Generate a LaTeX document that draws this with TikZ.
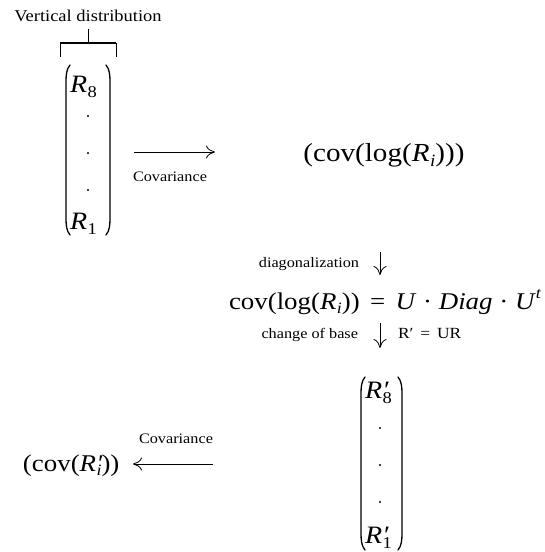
\documentclass[tikz,border=0pt]{standalone}
\usepackage{fontspec}
\setmainfont{Liberation Serif}[FakeStretch=1.12]
\usetikzlibrary{arrows.meta}
\newcommand\fsz[1]{\fontsize{#1}{#1}\selectfont}
\newcommand\lowsub[1]{\raisebox{-0.2em}{\fontsize{0.66em}{0.66em}\selectfont #1}}
\newcommand\Rsub[1]{\textit{R}\kern0.02em\lowsub{#1}}
\newcommand\Rpsub[1]{\textit{R}\rlap{\kern0.08em′}\kern0.02em\lowsub{#1}}
\begin{document}
\begin{tikzpicture}[x=1pt,y=-1pt,
  every node/.style={inner sep=0pt,outer sep=0pt},
  big/.style={font=\fsz{26}},
  mid/.style={font=\fsz{24}},
  vec/.style={font=\fsz{25}},
  lbl/.style={font=\fsz{14.5}},
  ttl/.style={font=\fsz{16.5}},
  vdot/.style={circle,fill,minimum size=2.4pt},
  parenline/.style={line width=1.3pt,line cap=round},
  conn/.style={-{To[length=9pt,width=13pt]},line width=0.8pt},
  brk/.style={line width=0.7pt}]
\useasboundingbox (0,0) rectangle (544,552);

% title and bracket
\node[ttl,anchor=base] (title) at (88,21) {Vertical distribution};
\draw[brk] (88,29) -- (88,43);
\draw[line width=1.8pt] (60,43) -- (116,43);
\draw[brk] (60,43) -- (60,57);
\draw[brk] (116,43) -- (116,57);

% left vector
\node[vec,anchor=base west] (r8) at (70,92) {\Rsub{8}};
\node[vdot] (d1) at (88,116) {};
\node[vdot] (d2) at (88,153) {};
\node[vdot] (d3) at (88,190) {};
\node[vec,anchor=base west] (r1) at (70,229) {\Rsub{1}};
\draw[parenline] (70,65) .. controls (66.5,69) and (66,75) .. (66,82) -- (66,218) .. controls (66,225) and (66.5,231) .. (70,235);
\draw[parenline] (106,65) .. controls (109.5,69) and (110,75) .. (110,82) -- (110,218) .. controls (110,225) and (109.5,231) .. (106,235);

% covariance arrow
\coordinate (a1s) at (134,152);
\coordinate (a1e) at (215,152);
\draw[conn] (a1s) -- (a1e);
\node[lbl,anchor=base] (cov1) at (170,181) {Covariance};

\node[big,anchor=base] (covlog) at (384,161) {(cov(log(\Rsub{\textit{i}})))};

% diagonalization
\node[lbl,anchor=base east] (diag) at (359,267) {diagonalization};
\coordinate (a2s) at (380,252);
\coordinate (a2e) at (380,275);
\draw[conn] (a2s) -- (a2e);

\node[mid,anchor=base west] (eq) at (229,309) {cov(log(\Rsub{\textit{i}}))\hspace{0.15em} = \hspace{0.15em}\textit{U} · \textit{Diag} · \textit{U}\raisebox{0.45em}{\fsz{16}\textit{t}}};

% change of base
\node[lbl,anchor=base east] (cob) at (358,338) {change of base};
\coordinate (a3s) at (380,323);
\coordinate (a3e) at (380,348);
\draw[conn] (a3s) -- (a3e);
\node[font=\fsz{15.5},anchor=base west] (rur) at (398,338) {R′\hspace{0.45em}=\hspace{0.45em}UR};

% right vector
\node[vec,anchor=base west] (rp8) at (365,398) {\Rpsub{8}};
\node[vdot] (e1) at (380,428) {};
\node[vdot] (e2) at (380,465) {};
\node[vdot] (e3) at (380,502) {};
\node[vec,anchor=base west] (rp1) at (365,543) {\Rpsub{1}};
\draw[parenline] (365,377) .. controls (361.5,381) and (361,387) .. (361,394) -- (361,533) .. controls (361,540) and (361.5,546) .. (365,550);
\draw[parenline] (398,377) .. controls (401.5,381) and (402,387) .. (402,394) -- (402,533) .. controls (402,540) and (401.5,546) .. (398,550);

% covariance back
\coordinate (a4s) at (213,464);
\coordinate (a4e) at (133,464);
\draw[conn] (a4s) -- (a4e);
\node[lbl,anchor=base] (cov2) at (176,443) {Covariance};
\node[mid,anchor=base west] (covp) at (23,471) {(cov(\Rpsub{\textit{i}}))};
\end{tikzpicture}
\end{document}
